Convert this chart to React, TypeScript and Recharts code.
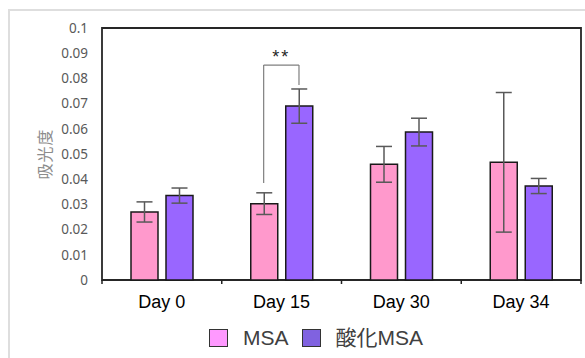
import React from 'react';
import { BarChart, Bar, XAxis, YAxis, ErrorBar, ReferenceArea, ReferenceLine, Legend } from 'recharts';

const categories = ['Day 0', 'Day 15', 'Day 30', 'Day 34'];
const msaValues = [0.027, 0.0303, 0.0459, 0.0467];
const msaErrors = [0.004, 0.0043, 0.0071, 0.0277];
const oxMsaValues = [0.0335, 0.069, 0.0587, 0.0373];
const oxMsaErrors = [0.003, 0.0068, 0.0055, 0.003];
const yTicks = [0, 0.01, 0.02, 0.03, 0.04, 0.05, 0.06, 0.07, 0.08, 0.09, 0.1];
const seriesNames = ['MSA', '酸化MSA'];
const legendColors = ['#FF99FF', '#8062E0'];
const barColors = ['#FF99CC', '#9966FF'];
// significance bracket (Day 15): x in category-units (0..4), y in absorbance
const bracketLeftX = 1.35;
const bracketRightX = 1.645;
const bracketTopY = 0.0853;
const bracketLeftBottomY = 0.0385;
const bracketRightBottomY = 0.0774;

const data = categories.map((c, i) => ({
  name: c,
  idx: i + 0.5,
  msa: msaValues[i],
  msaErr: msaErrors[i],
  ox: oxMsaValues[i],
  oxErr: oxMsaErrors[i],
}));

const renderLegend = () => (
  <div
    style={{
      display: 'flex',
      alignItems: 'center',
      marginLeft: 209,
      fontFamily: '"Liberation Sans", "Noto Sans CJK JP", sans-serif',
      fontSize: 21,
      color: '#404040',
    }}
  >
    {seriesNames.map((n, i) => (
      <div key={n} style={{ display: 'flex', alignItems: 'center', marginRight: 13 }}>
        <div
          style={{
            width: 17,
            height: 16,
            background: legendColors[i],
            border: '1.5px solid #333',
            marginRight: 15,
          }}
        />
        <span style={{ lineHeight: '24px' }}>{n}</span>
      </div>
    ))}
  </div>
);

const CategoryTick = (props: any) => {
  const { x, y, payload, width, visibleTicksCount, index } = props;
  const bw = width / visibleTicksCount;
  return (
    <g>
      <line x1={x - bw / 2} x2={x - bw / 2} y1={y} y2={y + 4} stroke="#222" strokeWidth={1.5} />
      {index === visibleTicksCount - 1 && (
        <line x1={x + bw / 2} x2={x + bw / 2} y1={y} y2={y + 4} stroke="#222" strokeWidth={1.5} />
      )}
      <text
        x={x}
        y={y + 15}
        dy="0.71em"
        textAnchor="middle"
        fontSize={18}
        fill="#000"
        fontFamily='"Liberation Sans", Arial, sans-serif'
      >
        {payload.value}
      </text>
    </g>
  );
};

export default function App() {
  return (
    <div
      style={{
        position: 'absolute',
        left: 0,
        top: 0,
        width: 585,
        height: 358,
        overflow: 'hidden',
        background: '#fff',
      }}
    >
      <div
        style={{
          position: 'absolute',
          left: 8,
          top: 9,
          width: 620,
          height: 400,
          border: '2px solid #dedede',
        }}
      />
      <div style={{ position: 'absolute', left: 0, top: 0 }}>
        <BarChart
          width={585}
          height={358}
          data={data}
          margin={{ top: 28, right: 4, bottom: 48, left: 0 }}
          barGap={8}
        >
          <XAxis
            xAxisId="a"
            dataKey="name"
            height={30}
            axisLine={false}
            tickLine={false}
            tickSize={0}
            tickMargin={0}
            interval={0}
            tick={<CategoryTick />}
          />
          <XAxis
            xAxisId="b"
            dataKey="idx"
            type="number"
            domain={[0, 4]}
            allowDataOverflow
            hide
          />
          <YAxis
            width={102}
            domain={[0, 0.1]}
            ticks={yTicks}
            axisLine={false}
            tickLine={false}
            tickSize={0}
            tickMargin={14}
            tickFormatter={(v: number) => String(v)}
            tick={{ fontSize: 13.5, fill: '#595959', fontFamily: '"Noto Sans", sans-serif' }}
            label={{
              value: '吸光度',
              angle: -90,
              position: 'insideLeft',
              offset: 45,
              style: {
                textAnchor: 'middle',
                fontSize: 16,
                letterSpacing: 1,
                fill: '#8c8c8c',
                fontFamily: '"Noto Sans CJK JP", sans-serif',
              },
            }}
          />
          <Legend
            verticalAlign="middle"
            layout="horizontal"
            wrapperStyle={{ position: 'absolute', left: 0, top: 326, width: 585 }}
            content={renderLegend}
          />
          <Bar
            xAxisId="a"
            dataKey="msa"
            name={seriesNames[0]}
            fill={barColors[0]}
            stroke="#1a1a1a"
            strokeWidth={1.5}
            barSize={27}
            isAnimationActive={false}
          >
            <ErrorBar dataKey="msaErr" direction="y" width={8} stroke="#595959" strokeWidth={1.5} />
          </Bar>
          <Bar
            xAxisId="a"
            dataKey="ox"
            name={seriesNames[1]}
            fill={barColors[1]}
            stroke="#1a1a1a"
            strokeWidth={1.5}
            barSize={27}
            isAnimationActive={false}
          >
            <ErrorBar dataKey="oxErr" direction="y" width={8} stroke="#595959" strokeWidth={1.5} />
          </Bar>
          <ReferenceArea
            xAxisId="a"
            y1={0}
            y2={0.1}
            fill="none"
            stroke="#262626"
            strokeWidth={1.8}
            ifOverflow="visible"
          />
          <ReferenceLine
            xAxisId="b"
            segment={[
              { x: bracketLeftX, y: bracketLeftBottomY },
              { x: bracketLeftX, y: bracketTopY },
            ]}
            stroke="#7f7f7f"
            strokeWidth={1.2}
            ifOverflow="visible"
          />
          <ReferenceLine
            xAxisId="b"
            segment={[
              { x: bracketLeftX, y: bracketTopY },
              { x: bracketRightX, y: bracketTopY },
            ]}
            stroke="#7f7f7f"
            strokeWidth={1.2}
            ifOverflow="visible"
            label={{
              value: '**',
              position: 'top',
              offset: 2,
              fill: '#262626',
              fontSize: 18,
              letterSpacing: 2,
              fontFamily: '"Liberation Sans", Arial, sans-serif',
            }}
          />
          <ReferenceLine
            xAxisId="b"
            segment={[
              { x: bracketRightX, y: bracketTopY },
              { x: bracketRightX, y: bracketRightBottomY },
            ]}
            stroke="#7f7f7f"
            strokeWidth={1.2}
            ifOverflow="visible"
          />
        </BarChart>
      </div>
    </div>
  );
}
